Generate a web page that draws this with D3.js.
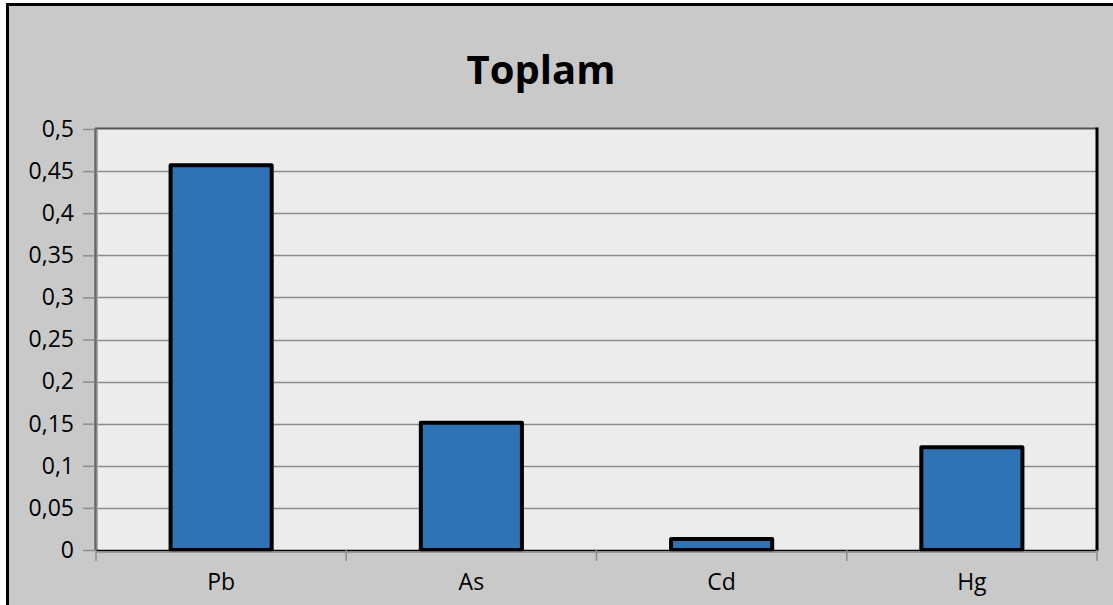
<!DOCTYPE html>
<html>
<head>
<meta charset="utf-8">
<script src="https://cdn.jsdelivr.net/npm/d3@7"></script>
<style>
  html, body { margin: 0; padding: 0; background: #ffffff; }
  svg { display: block; }
  text { font-family: "Open Sans", "Noto Sans", sans-serif; fill: #000; }
</style>
</head>
<body>
<svg id="chart" width="1113" height="605"></svg>
<script>
// Chart data
const categories = ["Pb", "As", "Cd", "Hg"];
const values = [0.457, 0.151, 0.013, 0.122];
const yTicks = [0, 0.05, 0.1, 0.15, 0.2, 0.25, 0.3, 0.35, 0.4, 0.45, 0.5];
const title = "Toplam";

const svg = d3.select("#chart");
const W = 1113, H = 605;

// Outer chart frame
svg.append("rect")
  .attr("x", 7.5).attr("y", 4.5)
  .attr("width", W + 20).attr("height", H + 20)
  .attr("fill", "#c9c9c9")
  .attr("stroke", "#000").attr("stroke-width", 3);

const plot = { left: 96, right: 1097, top: 129, bottom: 550 };

const x = d3.scaleBand()
  .domain(categories)
  .range([plot.left, plot.right])
  .paddingInner(0.596)
  .paddingOuter(0.298);

const y = d3.scaleLinear()
  .domain([0, 0.5])
  .range([plot.bottom, plot.top]);

// Plot area background
svg.append("rect")
  .attr("x", plot.left).attr("y", plot.top)
  .attr("width", plot.right - plot.left).attr("height", plot.bottom - plot.top)
  .attr("fill", "#ececec");

// Gridlines
svg.append("g")
  .selectAll("line")
  .data(yTicks.filter(d => d > 0 && d < 0.5))
  .join("line")
  .attr("x1", plot.left).attr("x2", plot.right)
  .attr("y1", d => Math.round(y(d)) + 0.5).attr("y2", d => Math.round(y(d)) + 0.5)
  .attr("stroke", "#8c8c8c").attr("stroke-width", 1.5);

// Plot area border: shaded top/left, dark right/bottom
svg.append("line")
  .attr("x1", plot.left - 1).attr("x2", plot.right)
  .attr("y1", plot.top - 0.5).attr("y2", plot.top - 0.5)
  .attr("stroke", "#555").attr("stroke-width", 2);
svg.append("line")
  .attr("x1", plot.left - 0.5).attr("x2", plot.left - 0.5)
  .attr("y1", plot.top - 1).attr("y2", plot.bottom)
  .attr("stroke", "#666").attr("stroke-width", 2.5);
svg.append("line")
  .attr("x1", plot.left + 1.5).attr("x2", plot.left + 1.5)
  .attr("y1", plot.top).attr("y2", plot.bottom)
  .attr("stroke", "#aaa").attr("stroke-width", 1);
svg.append("line")
  .attr("x1", plot.right).attr("x2", plot.right)
  .attr("y1", plot.top - 1.5).attr("y2", plot.bottom + 1)
  .attr("stroke", "#000").attr("stroke-width", 3);

// Bars
svg.append("g")
  .selectAll("rect")
  .data(categories.map((c, i) => ({ c, v: values[i] })))
  .join("rect")
  .attr("x", d => x(d.c))
  .attr("y", d => y(d.v))
  .attr("width", x.bandwidth())
  .attr("height", d => y(0) - y(d.v))
  .attr("fill", "#2e74b5")
  .attr("stroke", "#000").attr("stroke-width", 4)
  .attr("stroke-linejoin", "round");

// Category axis line (dark with a grey underline)
svg.append("line")
  .attr("x1", plot.left).attr("x2", plot.right)
  .attr("y1", plot.bottom + 0.5).attr("y2", plot.bottom + 0.5)
  .attr("stroke", "#000").attr("stroke-width", 1.5);
svg.append("line")
  .attr("x1", plot.left).attr("x2", plot.right)
  .attr("y1", plot.bottom + 2).attr("y2", plot.bottom + 2)
  .attr("stroke", "#888").attr("stroke-width", 1.5);

// Y axis
const yAxis = d3.axisLeft(y)
  .tickValues(yTicks)
  .tickSize(12)
  .tickPadding(9)
  .tickFormat(d => d3.format("")(d).replace(".", ","));
const gy = svg.append("g")
  .attr("transform", `translate(${plot.left - 1},0)`)
  .call(yAxis);
gy.select(".domain").remove();
gy.selectAll(".tick line").attr("stroke", "#8c8c8c").attr("stroke-width", 1.5);
gy.selectAll(".tick text")
  .style("font-size", "23px")
  .style("font-family", "'Open Sans', sans-serif")
  .attr("fill", "#000");

// X axis: tick marks at category boundaries, labels centered in bands
const step = x.step();
const boundaries = d3.range(categories.length + 1).map(i => plot.left + i * step);
svg.append("g")
  .selectAll("line")
  .data(boundaries)
  .join("line")
  .attr("x1", d => d).attr("x2", d => d)
  .attr("y1", plot.bottom).attr("y2", plot.bottom + 11)
  .attr("stroke", "#8c8c8c").attr("stroke-width", 1.5);

svg.append("g")
  .selectAll("text")
  .data(categories)
  .join("text")
  .attr("x", d => x(d) + x.bandwidth() / 2)
  .attr("y", 590)
  .attr("text-anchor", "middle")
  .style("font-size", "23px")
  .text(d => d);

// Title
svg.append("text")
  .attr("x", 541)
  .attr("y", 84)
  .attr("text-anchor", "middle")
  .style("font-size", "40px")
  .attr("font-weight", "bold")
  .text(title);
</script>
</body>
</html>
